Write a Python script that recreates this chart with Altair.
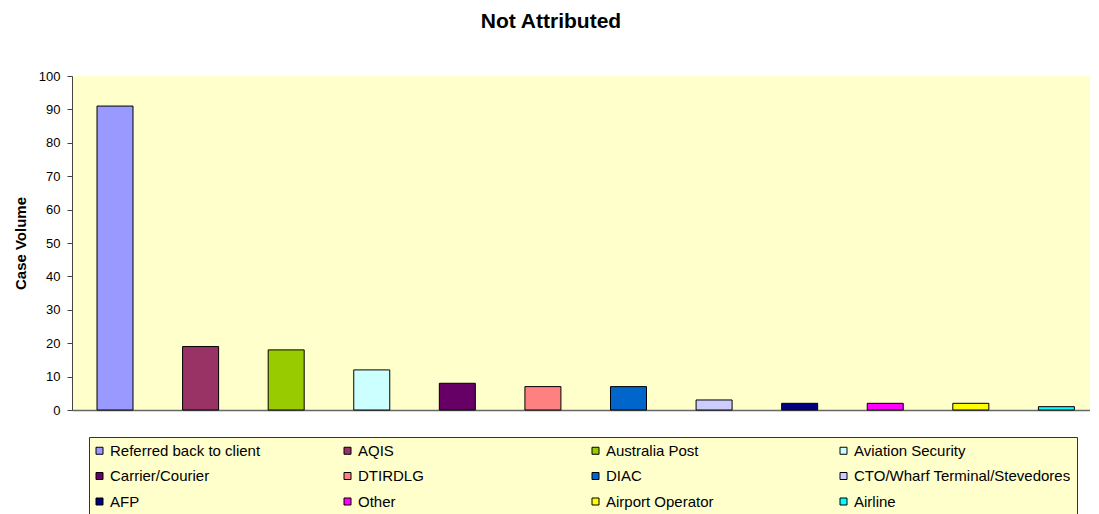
import altair as alt
import pandas as pd

categories = [
    "Referred back to client", "AQIS", "Australia Post", "Aviation Security",
    "Carrier/Courier", "DTIRDLG", "DIAC", "CTO/Wharf Terminal/Stevedores",
    "AFP", "Other", "Airport Operator", "Airline",
]
values = [91, 19, 18, 12, 8, 7, 7, 3, 2, 2, 2, 1]
colors = [
    "#9999FF", "#993366", "#99CC00", "#CCFFFF",
    "#660066", "#FF8080", "#0066CC", "#CCCCFF",
    "#000080", "#FF00FF", "#FFFF00", "#00FFFF",
]
y_ticks = list(range(0, 101, 10))

df = pd.DataFrame({"category": categories, "value": values})
FONT = "Liberation Sans"

chart = (
    alt.Chart(df)
    .mark_bar(stroke="black", strokeWidth=1)
    .encode(
        x=alt.X(
            "category:N",
            sort=categories,
            scale=alt.Scale(paddingInner=0.5793, paddingOuter=0.2372, align=0.616),
            axis=alt.Axis(labels=False, ticks=False, title=None,
                          domainColor="#666666", domainWidth=1.5),
        ),
        y=alt.Y(
            "value:Q",
            scale=alt.Scale(domain=[0, 100], nice=False),
            axis=alt.Axis(
                values=y_ticks, title="Case Volume", grid=False,
                tickSize=5, tickColor="#444444", domainColor="#444444",
                labelPadding=7, labelFontSize=13, labelFont=FONT,
                labelColor="black", titleFont=FONT, titleFontSize=15,
                titleFontWeight="bold", titleColor="black", titlePadding=10,
            ),
        ),
        color=alt.Color(
            "category:N",
            scale=alt.Scale(domain=categories, range=colors),
            legend=alt.Legend(
                title=None, orient="none", legendX=17, legendY=361,
                direction="horizontal", columns=4, gridAlign="all",
                columnPadding=15, rowPadding=9.5, padding=6,
                symbolType="square", symbolSize=49, symbolOffset=-3,
                symbolStrokeColor="black", symbolStrokeWidth=1,
                labelFont=FONT, labelFontSize=15, labelColor="black",
                labelOffset=3, labelLimit=400,
                fillColor="#FFFFCC", strokeColor="#333333",
            ),
        ),
    )
    .properties(
        width=1018,
        height=334,
        title=alt.TitleParams(
            "Not Attributed", font=FONT, fontSize=21, fontWeight="bold",
            color="black", anchor="middle", dx=-30, dy=-34,
        ),
        autosize=alt.AutoSizeParams(type="none"),
        padding={"left": 64, "top": 68, "right": 0, "bottom": 104},
    )
    .configure_view(fill="#FFFFCC", strokeWidth=0)
)

chart.save("out.html", embed_options={"renderer": "svg", "actions": False})
